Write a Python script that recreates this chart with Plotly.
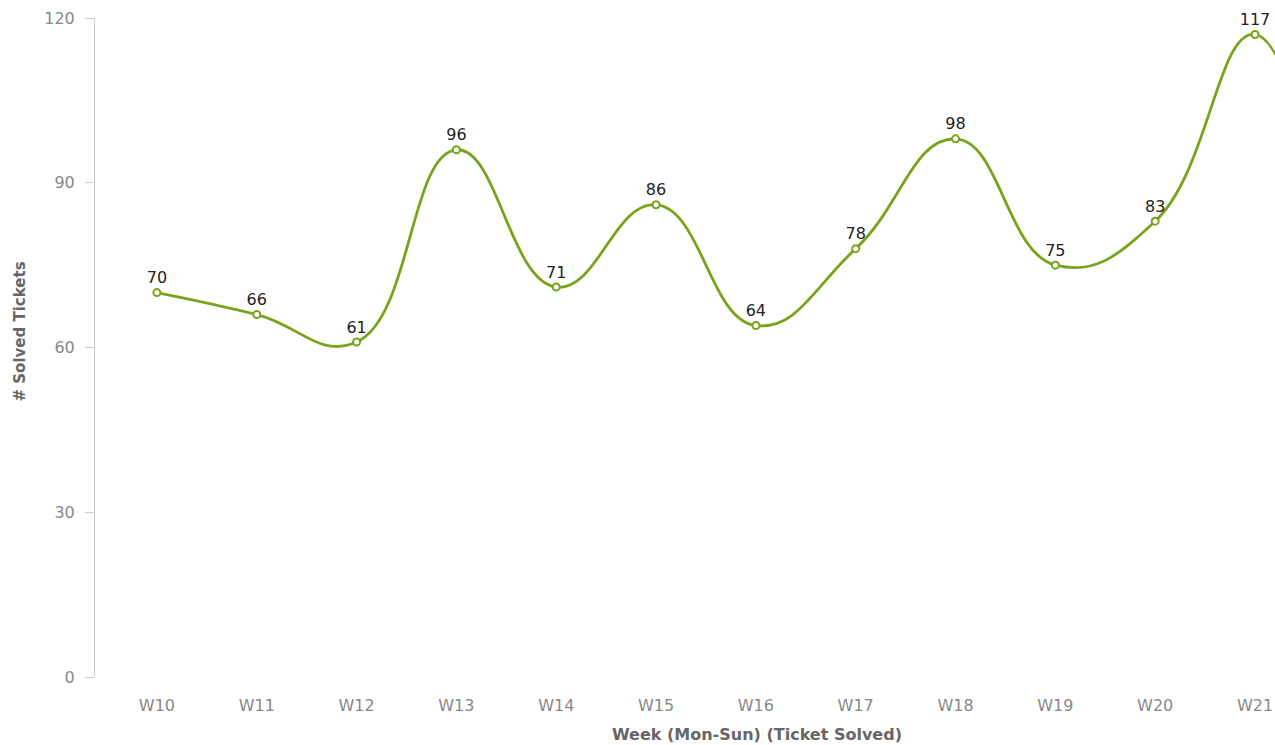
import plotly.graph_objects as go

weeks = ["W10", "W11", "W12", "W13", "W14", "W15", "W16", "W17", "W18", "W19", "W20", "W21", "W22"]
solved = [70, 66, 61, 96, 71, 86, 64, 78, 98, 75, 83, 117, 8]
# the last week runs past the right edge of the plot, so it carries no label
labels = [str(v) for v in solved[:-1]] + [""]
y_ticks = [0, 30, 60, 90, 120]

green = "#79a31c"
font_family = "DejaVu Sans, Verdana, sans-serif"

fig = go.Figure()
fig.add_trace(go.Scatter(
    x=weeks,
    y=solved,
    mode="lines+markers+text",
    text=labels,
    textposition="top center",
    textfont=dict(family=font_family, size=16, color="#222222"),
    line=dict(color=green, width=2.8, shape="spline", smoothing=1.3),
    marker=dict(size=7, color="white", line=dict(color=green, width=2)),
    cliponaxis=False,
    hoverinfo="x+y",
))

fig.update_layout(
    width=1275,
    height=745,
    margin=dict(l=95, r=0, t=18, b=68),
    plot_bgcolor="white",
    paper_bgcolor="white",
    showlegend=False,
    font=dict(family=font_family, color="#888888", size=16),
    xaxis=dict(
        type="category",
        range=[-0.62, 11.2],
        showline=False,
        showgrid=False,
        zeroline=False,
        ticks="",
        ticklabelstandoff=17,
        tickfont=dict(size=16, color="#888888"),
        fixedrange=True,
    ),
    yaxis=dict(
        range=[0, 120],
        tickvals=y_ticks,
        showline=True,
        linecolor="#cccccc",
        linewidth=1,
        ticks="outside",
        ticklen=9,
        tickcolor="#cccccc",
        ticklabelstandoff=7,
        showgrid=False,
        zeroline=False,
        tickfont=dict(size=16, color="#888888"),
        fixedrange=True,
    ),
    annotations=[
        dict(
            text="<b># Solved Tickets</b>", xref="paper", yref="paper",
            x=-0.0725, y=0.525, xanchor="left", yanchor="middle", textangle=-90,
            showarrow=False, font=dict(size=15, color="#666666"),
        ),
        dict(
            text="<b>Week (Mon-Sun) (Ticket Solved)</b>", xref="paper", yref="paper",
            x=0.561, y=-0.088, xanchor="center", yanchor="middle",
            showarrow=False, font=dict(size=16, color="#666666"),
        ),
    ],
)

fig.write_html("out.html")
